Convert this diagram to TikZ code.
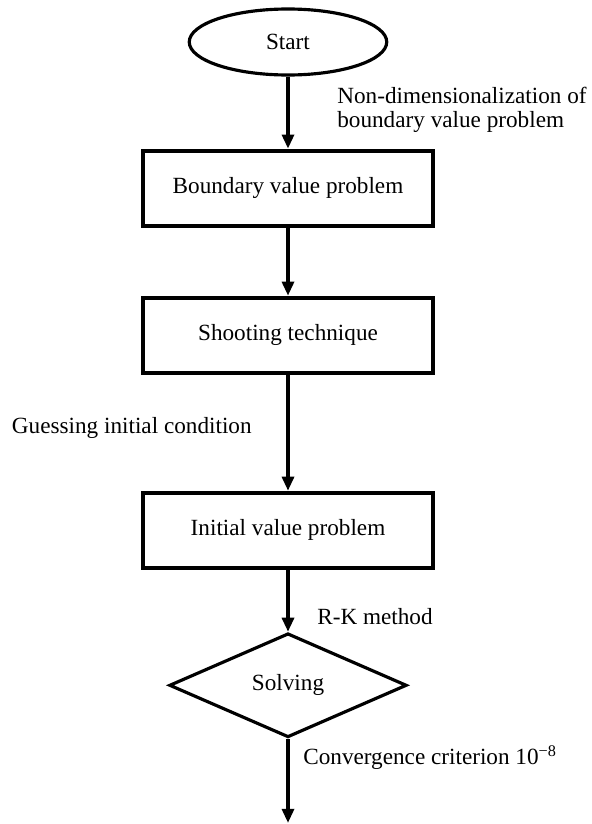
\documentclass[tikz,border=0pt]{standalone}
\usepackage{fontspec}
\setmainfont{Liberation Serif}
\usetikzlibrary{arrows.meta, positioning, shapes.geometric, calc}

\begin{document}
\begin{tikzpicture}[
    font=\fontsize{13.2}{13.4}\selectfont,
    box/.style={draw, line width=2.3pt, minimum width=5.8cm, minimum height=1.5cm,
                align=center},
    term/.style={draw, ellipse, line width=1.8pt, minimum width=3.95cm, minimum height=1.32cm},
    decide/.style={draw, diamond, aspect=2.2, line width=1.8pt, minimum width=4.75cm,
                   minimum height=2.08cm},
    lbl/.style={align=left, inner sep=0pt},
    arr/.style={-{Triangle[length=2.8mm, width=2.4mm]}, line width=1.8pt}
]
    \useasboundingbox (0,0) rectangle (11.84,-16.48);
    \node[term] (start) at (5.76,-0.84) {Start};
    \node[box, below=1.44cm of start] (bvp) {Boundary value problem};
    \node[box, below=1.36cm of bvp] (shoot) {Shooting technique};
    \node[box, below=2.32cm of shoot] (ivp) {Initial value problem};
    \node[decide, below=1.24cm of ivp] (solve) {Solving};
    \coordinate[below=1.68cm of solve] (finish);

    \node[lbl, anchor=west] (nondim) at ($(start.south)!0.5!(bvp.north)+(0.98,0.05)$)
        {Non-dimensionalization of\\boundary value problem};
    \node[lbl, anchor=east] (guess) at ($(shoot.south)!0.5!(ivp.north)+(-0.72,0.1)$)
        {Guessing initial condition};
    \node[lbl, anchor=west] (rk) at ($(ivp.south)!0.75!(solve.north)+(0.58,0)$)
        {R-K method};
    \node[lbl, anchor=west] (conv) at ($(solve.south)!0.22!(finish)+(0.3,0)$)
        {Convergence criterion 10\textsuperscript{−8}};

    \draw[arr] (start) -- (bvp);
    \draw[arr] (bvp) -- (shoot);
    \draw[arr] (shoot) -- (ivp);
    \draw[arr] (ivp) -- (solve);
    \draw[arr] (solve) -- (finish);
\end{tikzpicture}
\end{document}
